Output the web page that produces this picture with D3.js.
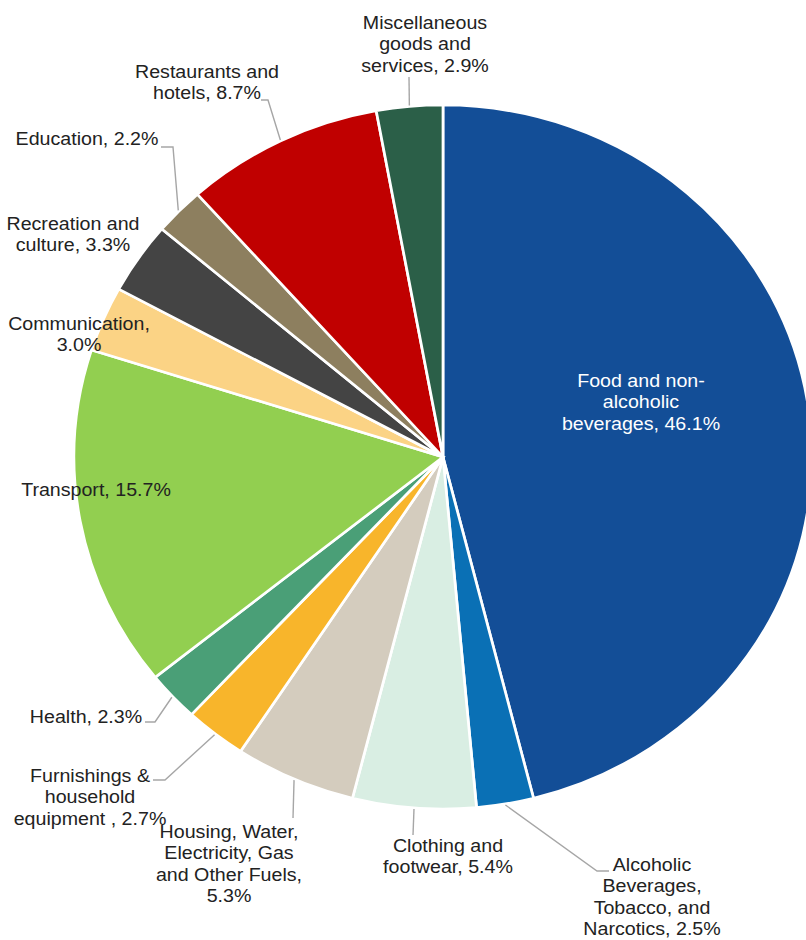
<!DOCTYPE html>
<html>
<head>
<meta charset="utf-8">
<script src="https://cdn.jsdelivr.net/npm/d3@7"></script>
<style>
  html, body { margin: 0; padding: 0; background: #ffffff; }
  svg { display: block; }
</style>
</head>
<body>
<svg id="pieChart"></svg>
<script>
/****
 *
 *  household expenditure shares, pie chart
 *
 */

// categories, clockwise from 12 o'clock
const categories = ["Food and non-alcoholic beverages",
                    "Alcoholic Beverages, Tobacco, and Narcotics",
                    "Clothing and footwear",
                    "Housing, Water, Electricity, Gas and Other Fuels",
                    "Furnishings & household equipment",
                    "Health",
                    "Transport",
                    "Communication",
                    "Recreation and culture",
                    "Education",
                    "Restaurants and hotels",
                    "Miscellaneous goods and services"];

// share of spending (%)
const shares = [46.1, 2.5, 5.4, 5.3, 2.7, 2.3, 15.7, 3.0, 3.3, 2.2, 8.7, 2.9];

// label text, one entry per line
const labelLines = [["Food and non-", "alcoholic", "beverages, 46.1%"],
                    ["Alcoholic", "Beverages,", "Tobacco, and", "Narcotics, 2.5%"],
                    ["Clothing and", "footwear, 5.4%"],
                    ["Housing, Water,", "Electricity, Gas", "and Other Fuels,", "5.3%"],
                    ["Furnishings &", "household", "equipment , 2.7%"],
                    ["Health, 2.3%"],
                    ["Transport, 15.7%"],
                    ["Communication,", "3.0%"],
                    ["Recreation and", "culture, 3.3%"],
                    ["Education, 2.2%"],
                    ["Restaurants and", "hotels, 8.7%"],
                    ["Miscellaneous", "goods and", "services, 2.9%"]];

const colors = ["#134e97", "#0a70b5", "#d9eee3", "#d4ccbe", "#f8b52b", "#4a9f77",
                "#92cf50", "#fbd385", "#444444", "#8d7f5f", "#c00000", "#2b5f48"];

function drawPieChart(){

  // set the dimensions of the picture
  let width = 806,
      height = 940,
      cx = 443,
      cy = 457,
      radius = 352,
      stretchX = 369 / 352,   // the original chart is slightly wider than tall
      lineHeight = 21.4;

  // label anchors (centre x, first baseline y) and leader line bends
  let labelLayout = [
    {x: 641, y: 387, fill: "#ffffff"},
    {x: 652, y: 871, leader: [[597, 871], [609, 871]]},
    {x: 448, y: 852, leader: [[413, 835]]},
    {x: 229, y: 838, leader: [[293, 818]]},
    {x: 90,  y: 782, leader: [[165, 780], [153, 780]]},
    {x: 86,  y: 723, leader: [[155, 722], [145, 722]]},
    {x: 96,  y: 496},
    {x: 79,  y: 330},
    {x: 73,  y: 230},
    {x: 87,  y: 145, leader: [[173, 147], [161, 147]]},
    {x: 207, y: 78,  leader: [[268, 100], [261, 100]]},
    {x: 425, y: 29,  leader: [[409, 77]]}
  ];

  let svg = d3.select("#pieChart")
              .attr("width", width)
              .attr("height", height);

  let data = categories.map((c, i) => ({name: c, value: shares[i], lines: labelLines[i]}));

  let pie = d3.pie()
              .sort(null)
              .value(d => d.value);
  let arcs = pie(data);

  let arc = d3.arc()
              .innerRadius(0)
              .outerRadius(radius);

  // a zero-width arc at the rim gives the leader start points
  let rimArc = d3.arc()
                 .innerRadius(radius + 1)
                 .outerRadius(radius + 1);

  // add the slices
  svg.append("g")
     .attr("transform", "translate(" + cx + "," + cy + ") scale(" + stretchX + ",1)")
     .selectAll("path")
     .data(arcs)
     .enter()
     .append("path")
     .attr("d", arc)
     .attr("fill", (d, i) => colors[i])
     .attr("stroke", "#ffffff")
     .attr("stroke-width", 2.6);

  // add the leader lines
  let line = d3.line();
  svg.append("g")
     .selectAll("path")
     .data(arcs.filter((d, i) => labelLayout[i].leader))
     .enter()
     .append("path")
     .attr("d", d => {
        let p = rimArc.centroid(d);
        let start = [cx + p[0] * stretchX, cy + p[1]];
        return line([start].concat(labelLayout[d.index].leader));
     })
     .attr("fill", "none")
     .attr("stroke", "#a6a6a6")
     .attr("stroke-width", 1.4);

  // add the labels
  let labels = svg.append("g")
                  .selectAll("text")
                  .data(arcs)
                  .enter()
                  .append("text")
                  .attr("transform", d => "translate(" + labelLayout[d.index].x + "," + labelLayout[d.index].y + ") scale(1.05,1)")
                  .attr("text-anchor", "middle")
                  .attr("font-family", "'Liberation Sans', Arial, sans-serif")
                  .attr("font-size", "18.7px")
                  .attr("fill", d => labelLayout[d.index].fill || "#222222");

  labels.selectAll("tspan")
        .data(d => d.data.lines)
        .enter()
        .append("tspan")
        .attr("x", 0)
        .attr("y", (t, j) => j * lineHeight)
        .text(t => t);

} // end of drawPieChart

drawPieChart();
</script>
</body>
</html>
